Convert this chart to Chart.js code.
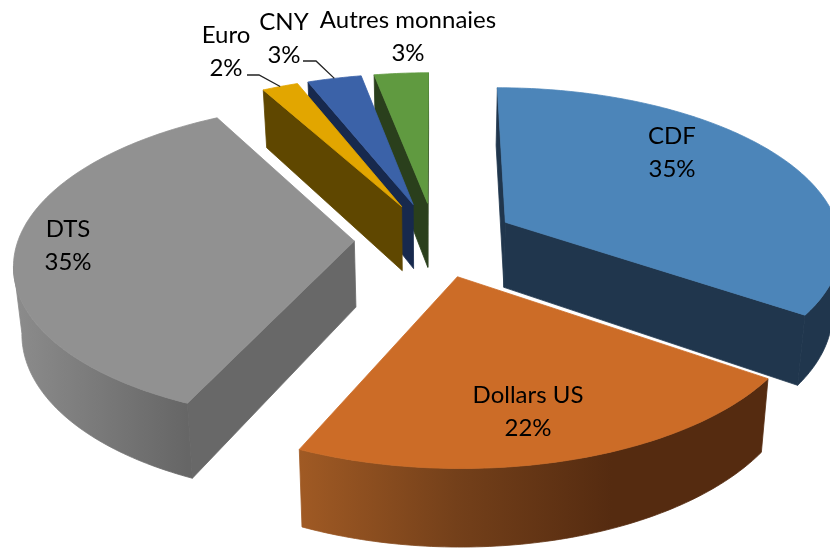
<!DOCTYPE html>
<html>
<head>
<meta charset="utf-8">
<title>Répartition par monnaie</title>
<script src="https://cdn.jsdelivr.net/npm/chart.js@4/dist/chart.umd.js"></script>
<style>
  html, body { margin: 0; padding: 0; background: #fff; }
  canvas { display: block; }
</style>
</head>
<body>
<canvas id="myChart" width="830" height="549"></canvas>
<script>
'use strict';

const categories = ['CDF', 'Dollars US', 'DTS', 'Euro', 'CNY', 'Autres monnaies'];
const shares = [34.6, 22.1, 35.3, 2, 3, 3];
const topColors = ['#4c85b9', '#cc6c27', '#919191', '#e2a600', '#3b62a8', '#609a40'];
const wallColors = ['#20364d', '#552b10', '#686868', '#5f4700', '#17294d', '#2a3f1c'];
const rimStops = [
  ['#20364d', '#20364d'],
  ['#a05a24', '#74401a', '#552b10', '#552b10'],
  ['#8c8c8c', '#666666'],
  ['#5f4700', '#5f4700'],
  ['#17294d', '#17294d'],
  ['#2a3f1c', '#2a3f1c']
];

// fake 3D view of the pie
const view = {
  zoom: 1.224, shiftX: 20, shiftY: -35,
  tilt: 0.465, persp: 0.13, depth: 66, shrink: 0.98, explode: 0.24
};

// text placement: [x, first line y]
const labelPos = [[672, 136], [528, 395], [68, 229], [226, 35], [284, 22], [408, 20]];
const leaders = { 3: [[247, 75], [259, 75]], 4: [[303, 61], [316, 61]] };

const ctx = document.getElementById('myChart');

function project(arc, angle, r, mid, low) {
  const radius = arc.outerRadius * view.zoom;
  const cx = arc.x + view.shiftX;
  const cy = arc.y + view.shiftY;
  const u = Math.cos(angle) * r + Math.cos(mid) * view.explode;
  const v = Math.sin(angle) * r + Math.sin(mid) * view.explode;
  const s = 1 / (1 - view.persp * v);
  let x = u * radius * s;
  let y = cy + v * radius * view.tilt * s;
  if (low) {
    x *= view.shrink;
    y += view.depth * s;
  }
  return { x: cx + x, y: y };
}

function fillPoly(c, pts, fill) {
  c.beginPath();
  pts.forEach((p, i) => (i ? c.lineTo(p.x, p.y) : c.moveTo(p.x, p.y)));
  c.closePath();
  c.fillStyle = fill;
  c.strokeStyle = fill; // hides the hairline between two faces
  c.lineWidth = 0.8;
  c.fill();
  c.stroke();
}

function drawSlice(c, arc, i) {
  const a0 = arc.startAngle;
  const a1 = arc.endAngle;
  const mid = (a0 + a1) / 2;
  const steps = Math.max(6, Math.ceil((a1 - a0) * 60));
  const P = (a, r, low) => project(arc, a, r, mid, low);

  // straight walls, only those facing the viewer
  const apex = P(mid, 0);
  const apexLow = P(mid, 0, true);
  if (P(a0, 1).x < apex.x) {
    fillPoly(c, [apex, P(a0, 1), P(a0, 1, true), apexLow], wallColors[i]);
  }
  if (apex.x < P(a1, 1).x) {
    fillPoly(c, [P(a1, 1), apex, apexLow, P(a1, 1, true)], wallColors[i]);
  }

  // outer wall, the part of the rim that runs right to left
  const rim = [];
  for (let k = 0; k < steps; k++) {
    const a = a0 + (a1 - a0) * k / steps;
    const b = a0 + (a1 - a0) * (k + 1) / steps;
    if (P(b, 1).x < P(a, 1).x) {
      if (!rim.length) rim.push(a);
      rim.push(b);
    }
  }
  if (rim.length > 1) {
    const upper = rim.map(a => P(a, 1));
    const lower = rim.map(a => P(a, 1, true)).reverse();
    const left = Math.min(...upper.map(p => p.x));
    const right = Math.max(...upper.map(p => p.x));
    const grad = c.createLinearGradient(left, 0, right, 0);
    rimStops[i].forEach((col, k) => grad.addColorStop(k / (rimStops[i].length - 1), col));
    fillPoly(c, upper.concat(lower), grad);
  }

  // top face
  const top = [apex];
  for (let k = 0; k <= steps; k++) top.push(P(a0 + (a1 - a0) * k / steps, 1));
  fillPoly(c, top, arc.options.backgroundColor);
}

const pie3d = {
  id: 'pie3d',
  beforeDatasetDraw(chart, args) {
    const arcs = args.meta.data;
    const c = chart.ctx;
    const order = arcs.map((a, i) => i)
      .sort((p, q) => Math.sin((arcs[p].startAngle + arcs[p].endAngle) / 2) -
                      Math.sin((arcs[q].startAngle + arcs[q].endAngle) / 2));
    c.save();
    order.forEach(i => drawSlice(c, arcs[i], i));
    c.restore();
    return false;
  },
  afterDatasetsDraw(chart) {
    const arcs = chart.getDatasetMeta(0).data;
    const c = chart.ctx;
    c.save();
    c.fillStyle = '#000';
    c.font = '24px Lato, "Open Sans", sans-serif';
    c.textAlign = 'center';
    c.textBaseline = 'middle';
    categories.forEach((name, i) => {
      c.fillText(name, labelPos[i][0], labelPos[i][1]);
      c.fillText(Math.round(shares[i]) + '%', labelPos[i][0], labelPos[i][1] + 33);
    });
    c.strokeStyle = '#222';
    c.lineWidth = 1.3;
    Object.keys(leaders).forEach(i => {
      const arc = arcs[i];
      const mid = (arc.startAngle + arc.endAngle) / 2;
      const end = project(arc, mid, 1, mid);
      c.beginPath();
      c.moveTo(leaders[i][0][0], leaders[i][0][1]);
      c.lineTo(leaders[i][1][0], leaders[i][1][1]);
      c.lineTo(end.x, end.y);
      c.stroke();
    });
    c.restore();
  }
};

new Chart(ctx, {
  type: 'pie',
  data: {
    labels: categories,
    datasets: [{ data: shares, backgroundColor: topColors, borderWidth: 0 }]
  },
  options: {
    responsive: false,
    animation: false,
    plugins: { legend: { display: false }, tooltip: { enabled: false } }
  },
  plugins: [pie3d]
});
</script>
</body>
</html>
